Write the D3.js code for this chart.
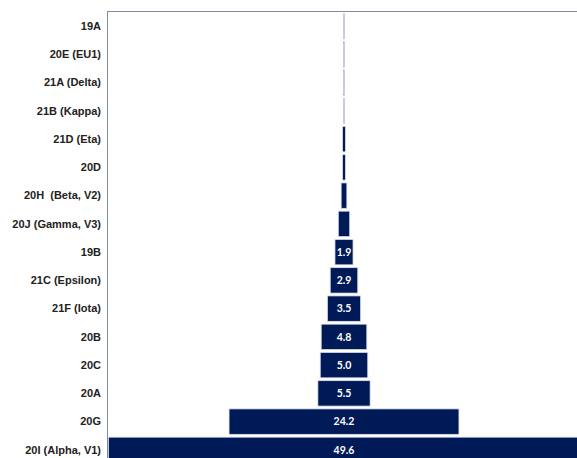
<!DOCTYPE html>
<html><head><meta charset="utf-8">
<script src="https://cdn.jsdelivr.net/npm/d3@7"></script>
<style>html,body{margin:0;padding:0;background:#fff;overflow:hidden}</style>
</head><body>
<svg id="c" width="577" height="458"></svg>
<script>
const categories = ["19A","20E (EU1)","21A (Delta)","21B (Kappa)","21D (Eta)","20D","20H  (Beta, V2)","20J (Gamma, V3)","19B","21C (Epsilon)","21F (Iota)","20B","20C","20A","20G","20I (Alpha, V1)"];
const values = [0.1,0.1,0.1,0.1,0.3,0.3,0.6,1.2,1.9,2.9,3.5,4.8,5.0,5.5,24.2,49.6];
const labelThreshold = 1.5;

const svg = d3.select("#c");
const x = d3.scaleLinear().domain([-24.8, 24.8]).range([108.4, 579.6]);
const y = d3.scaleBand().domain(categories).range([12, 464]).paddingInner(0.1).paddingOuter(0.05);
const data = categories.map((c,i)=>({c, v: values[i]}));

svg.selectAll("rect.bar").data(data).enter().append("rect")
  .attr("class","bar")
  .attr("x", d=>x(-d.v/2))
  .attr("width", d=>x(d.v/2)-x(-d.v/2))
  .attr("y", d=>y(d.c))
  .attr("height", y.bandwidth())
  .attr("fill", "#001a57")
  .attr("stroke", "#d9dde8")
  .attr("stroke-width", 0.8);

svg.selectAll("text.val").data(data.filter(d=>d.v>=labelThreshold)).enter().append("text")
  .attr("x", x(0)).attr("y", d=>y(d.c)+y.bandwidth()/2)
  .attr("dy","0.35em").attr("text-anchor","middle")
  .attr("fill","#fff").attr("font-family","Lato, 'Open Sans', sans-serif")
  .attr("font-weight","bold").attr("font-size","10.5px")
  .text(d=>d.v.toFixed(1));

// frame
svg.append("line").attr("x1",107.5).attr("x2",107.5).attr("y1",11).attr("y2",458).attr("stroke","#7f8aa8").attr("stroke-width",1);
svg.append("line").attr("x1",107).attr("x2",577).attr("y1",11.5).attr("y2",11.5).attr("stroke","#7f8aa8").attr("stroke-width",1);

// category axis labels
svg.selectAll("text.cat").data(categories).enter().append("text")
  .attr("x", 101).attr("y", d=>y(d)+y.bandwidth()/2)
  .attr("dy","0.35em").attr("text-anchor","end")
  .attr("fill","#222").attr("font-family","'Liberation Sans', Arial, sans-serif")
  .attr("font-weight","bold").attr("font-size","11px")
  .attr("xml:space","preserve").style("white-space","pre")
  .text(d=>d);
</script>
</body></html>
